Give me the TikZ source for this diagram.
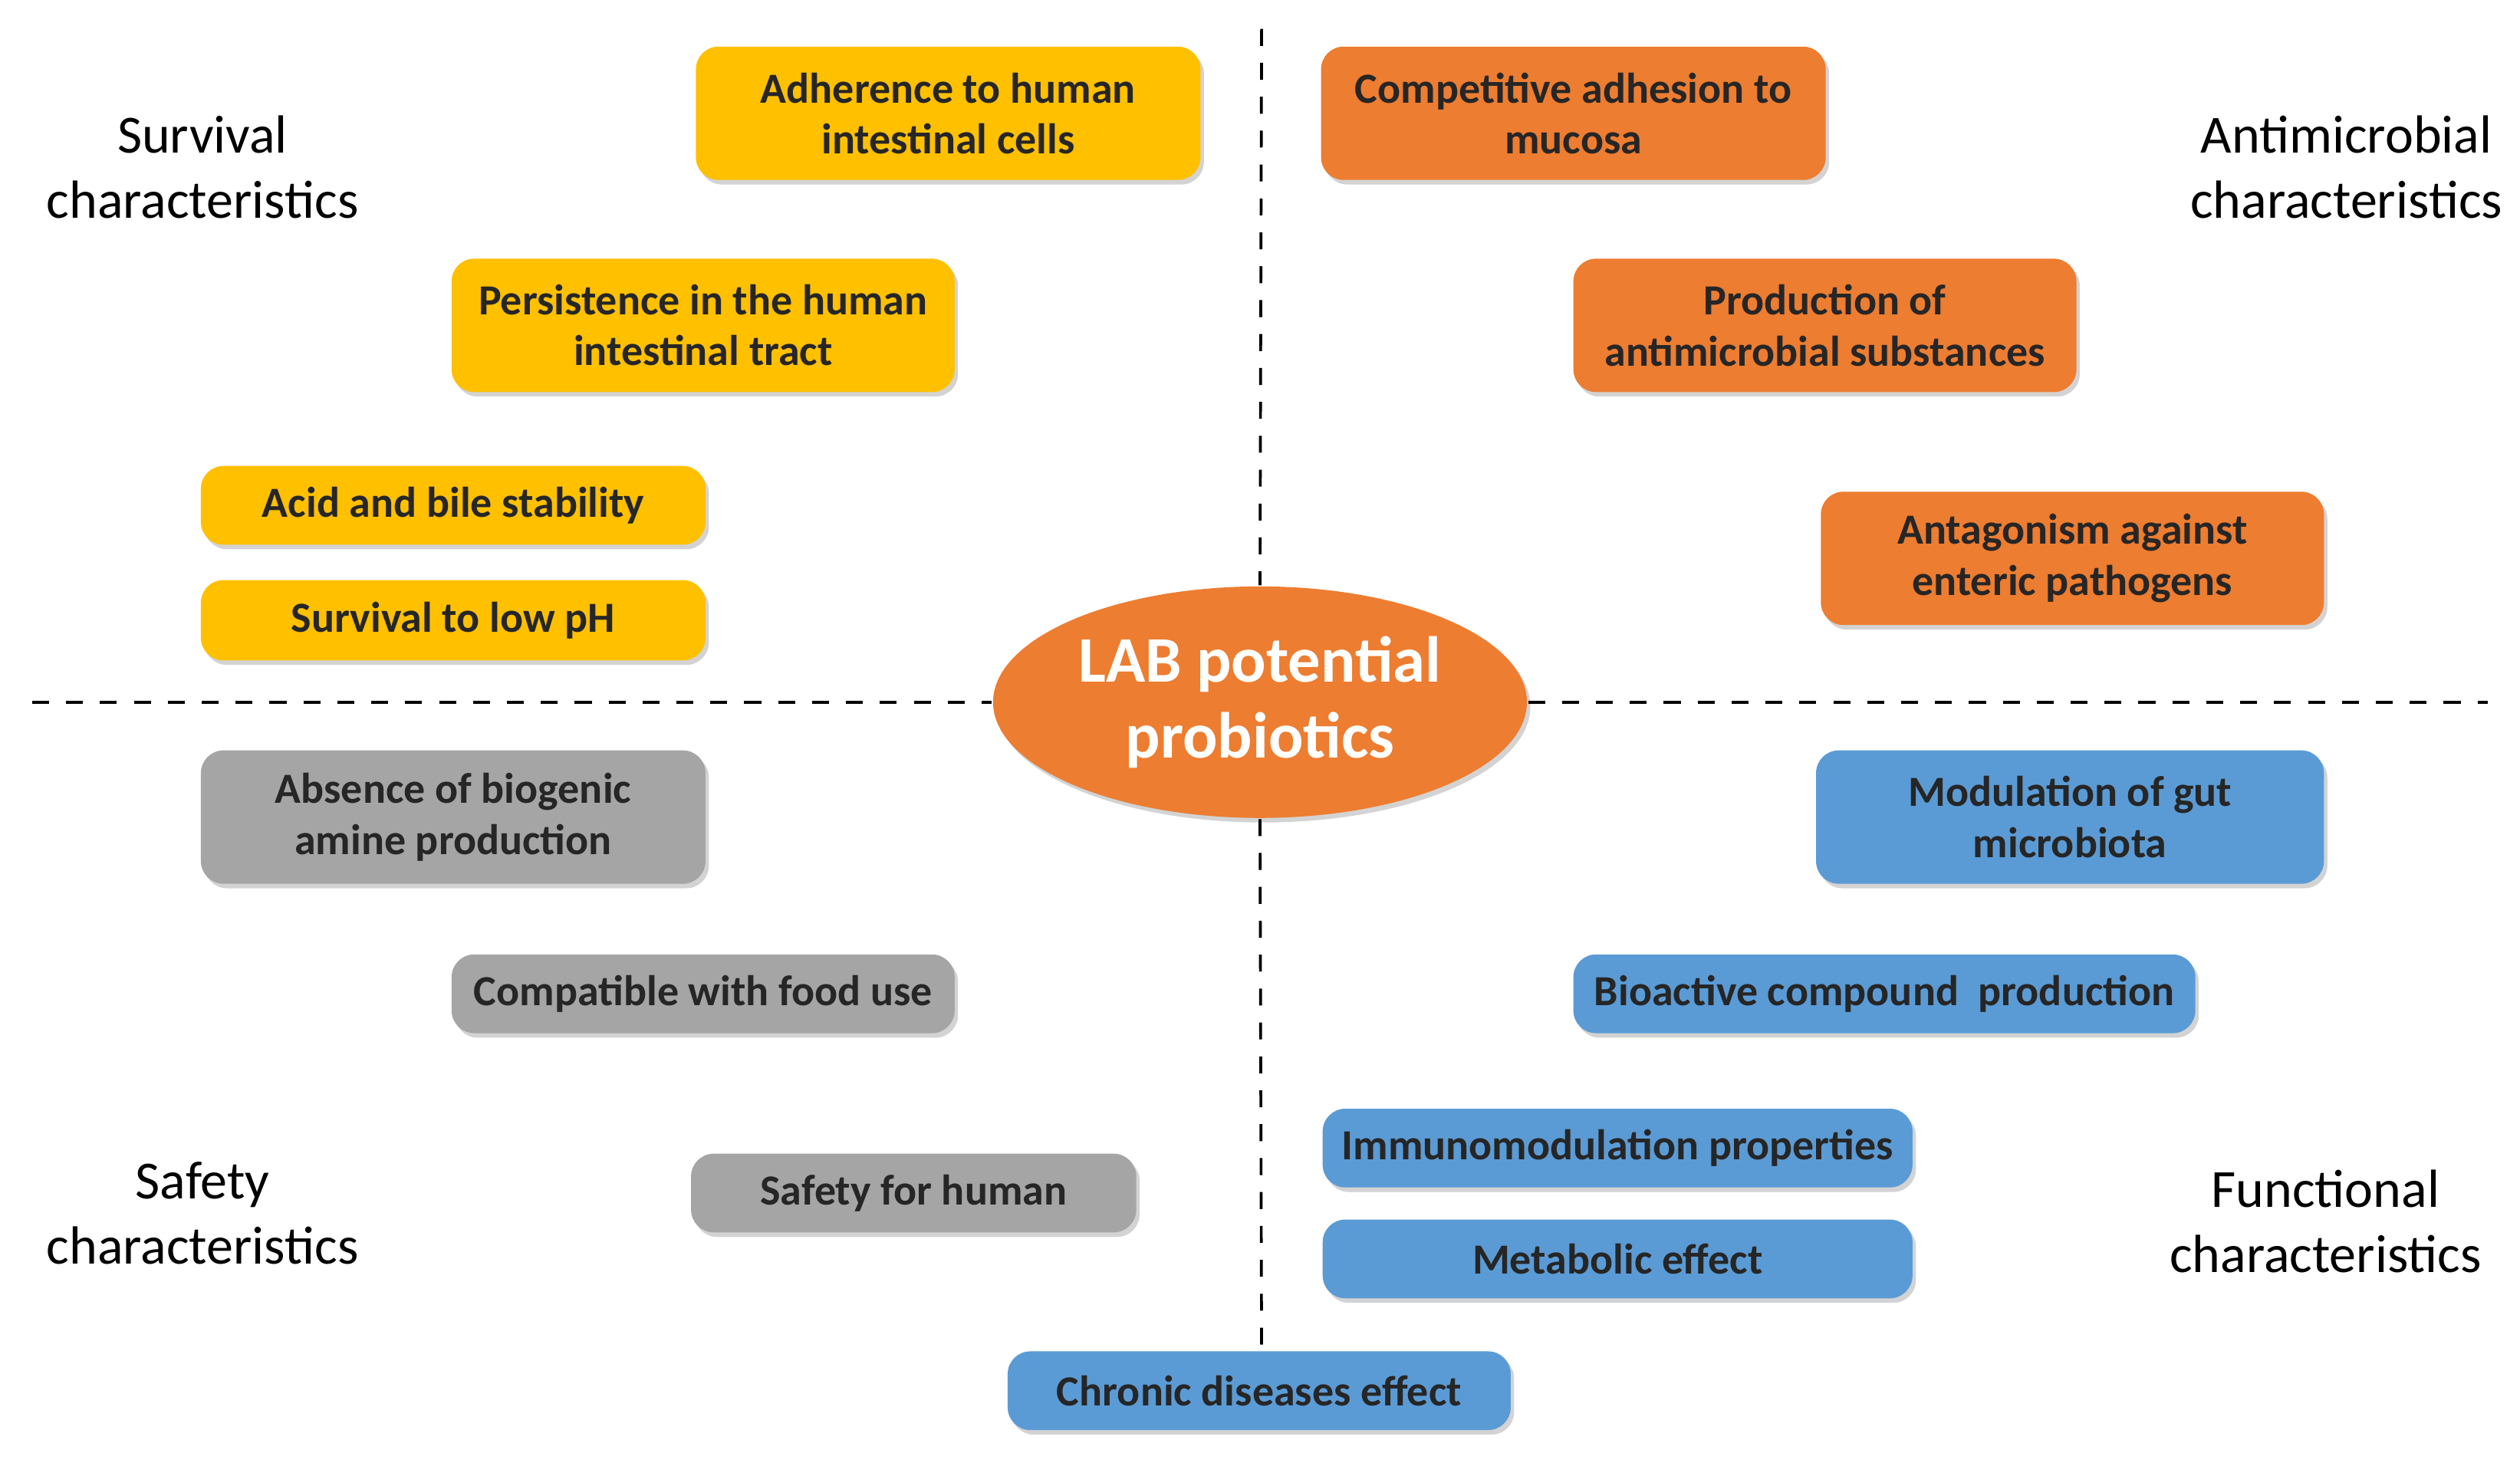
\documentclass[tikz,border=0pt]{standalone}
\usepackage{fontspec}
\setmainfont{Carlito}
\usetikzlibrary{shapes.geometric,shadows}
\definecolor{yel}{HTML}{FFC000}
\definecolor{ora}{HTML}{ED7D31}
\definecolor{gry}{HTML}{A5A5A5}
\definecolor{blu}{HTML}{5B9BD5}
\begin{document}
\begin{tikzpicture}[x=0.01cm,y=-0.01cm,
 box/.style={draw=none,rounded corners=4pt,align=center,font=\fontsize{7.6}{9}\selectfont\bfseries,inner sep=0pt,drop shadow={shadow xshift=0.6pt,shadow yshift=-0.8pt,opacity=0.35}},
 Y/.style={box,fill=yel,text=black!85},
 O/.style={box,fill=ora,text=black!85},
 G/.style={box,fill=gry,text=black!85},
 B/.style={box,fill=blu,text=black!85},
 ttl/.style={align=center,font=\fontsize{9.5}{11.5}\selectfont},
 dsh/.style={dashed,line width=0.5pt}]
\useasboundingbox (0,0) rectangle (1568,912);
\newcommand\bx[6]{\node[#1,minimum width={(#4-#3)*0.01cm},minimum height={(#6-#5)*0.01cm}] (#2) at ({(#3+#4)/2},{(#5+#6)/2})}
\coordinate (v1) at (785,18); \coordinate (v2) at (785,840);
\coordinate (h1) at (20,437); \coordinate (h2) at (1548,437);
\node[ellipse,fill=ora,minimum width=3.32cm,minimum height=1.44cm,inner sep=0pt,text=white,align=center,font=\fontsize{11.5}{13.5}\selectfont\bfseries,drop shadow={shadow xshift=0.6pt,shadow yshift=-0.8pt,opacity=0.35}] (lab) at (784,437) {LAB potential\\probiotics};
\draw[dsh] (v1) -- (lab.north);
\draw[dsh] (lab.south) -- (v2);
\draw[dsh] (h1) -- (lab.west);
\draw[dsh] (lab.east) -- (h2);
\bx{Y}{a1}{433}{747}{29}{112}{Adherence to human\\intestinal cells};
\bx{Y}{a2}{281}{594}{161}{244}{Persistence in the human\\intestinal tract};
\bx{Y}{a3}{125}{439}{290}{339}{Acid and bile stability};
\bx{Y}{a4}{125}{439}{361}{411}{Survival to low pH};
\bx{O}{b1}{822}{1136}{29}{112}{Competitive adhesion to\\mucosa};
\bx{O}{b2}{979}{1292}{161}{244}{Production of\\antimicrobial substances};
\bx{O}{b3}{1133}{1446}{306}{389}{Antagonism against\\enteric pathogens};
\bx{G}{c1}{125}{439}{467}{550}{Absence of biogenic\\amine production};
\bx{G}{c2}{281}{594}{594}{643}{Compatible with food use};
\bx{G}{c3}{430}{707}{718}{767}{Safety for human};
\bx{B}{d1}{1130}{1446}{467}{550}{Modulation of gut\\microbiota};
\bx{B}{d2}{979}{1366}{594}{643}{Bioactive compound\ \ production};
\bx{B}{d3}{823}{1190}{690}{739}{Immunomodulation properties};
\bx{B}{d4}{823}{1190}{759}{808}{Metabolic effect};
\bx{B}{d5}{627}{940}{841}{890}{Chronic diseases effect};
\node[ttl] (t1) at (126,104) {Survival\\characteristics};
\node[ttl] (t2) at (1460,104) {Antimicrobial\\characteristics};
\node[ttl] (t3) at (126,755) {Safety\\characteristics};
\node[ttl] (t4) at (1447,760) {Functional\\characteristics};
\end{tikzpicture}
\end{document}
